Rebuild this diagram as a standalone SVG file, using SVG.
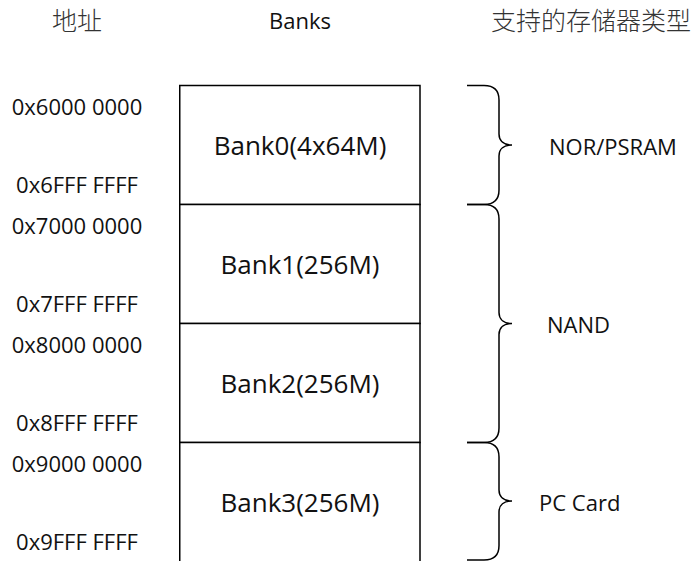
<svg xmlns="http://www.w3.org/2000/svg" width="695" height="561" viewBox="0 0 695 561">
<style>
  .hdr { font-family: "Noto Sans CJK SC", "Noto Sans", sans-serif; font-size: 25px; font-weight: 300; fill: #333; }
  .lat { font-family: "Open Sans", "Noto Sans", "Liberation Sans", sans-serif; fill: #111; }
  .addr { font-size: 22px; text-anchor: middle; }
  .bank { font-size: 26px; text-anchor: middle; }
  .type { font-size: 22px; }
  .box { fill: #fff; stroke: #000; stroke-width: 1.5; }
  .brace { fill: none; stroke: #000; stroke-width: 1.5; }
</style>
<rect width="695" height="561" fill="#fff"/>

<g id="headers">
  <text class="hdr" x="52" y="30">地址</text>
  <text class="lat" x="300" y="29" font-size="22" text-anchor="middle">Banks</text>
  <text class="hdr" x="491" y="30">支持的存储器类型</text>
</g>

<g id="addresses" class="lat addr">
  <text x="77" y="115">0x6000 0000</text>
  <text x="77" y="193">0x6FFF FFFF</text>
  <text x="77" y="234">0x7000 0000</text>
  <text x="77" y="312">0x7FFF FFFF</text>
  <text x="77" y="353">0x8000 0000</text>
  <text x="77" y="431">0x8FFF FFFF</text>
  <text x="77" y="472">0x9000 0000</text>
  <text x="77" y="550">0x9FFF FFFF</text>
</g>

<g id="bank0">
  <rect class="box" x="179.75" y="85.5" width="240.25" height="119"/>
  <text class="lat bank" x="300" y="155">Bank0(4x64M)</text>
</g>
<g id="bank1">
  <rect class="box" x="179.75" y="204.5" width="240.25" height="119"/>
  <text class="lat bank" x="300" y="274">Bank1(256M)</text>
</g>
<g id="bank2">
  <rect class="box" x="179.75" y="323.5" width="240.25" height="119"/>
  <text class="lat bank" x="300" y="393">Bank2(256M)</text>
</g>
<g id="bank3">
  <rect class="box" x="179.75" y="442.5" width="240.25" height="130"/>
  <text class="lat bank" x="300" y="512">Bank3(256M)</text>
</g>

<g id="connectors">
  <path class="brace" d="M467,85.5 H484 C493,85.5 499,90 499,100 V134 C499,141 504,145 512,145 C504,145 499,149 499,156 V190 C499,200 493,204.5 484,204.5 H467"/>
  <path class="brace" d="M467,204.5 H484 C493,204.5 499,209 499,219 V312.5 C499,319.5 504,323.5 512,323.5 C504,323.5 499,327.5 499,334.5 V428 C499,438 493,442.5 484,442.5 H467"/>
  <path class="brace" d="M467,442.5 H484 C493,442.5 499,447 499,457 V490 C499,497 504,501 512,501 C504,501 499,505 499,512 V545.5 C499,555.5 493,560 484,560 H467"/>
</g>

<g id="types" class="lat type">
  <text x="549" y="154.5">NOR/PSRAM</text>
  <text x="547" y="332.5">NAND</text>
  <text x="539" y="510.5">PC Card</text>
</g>
</svg>
